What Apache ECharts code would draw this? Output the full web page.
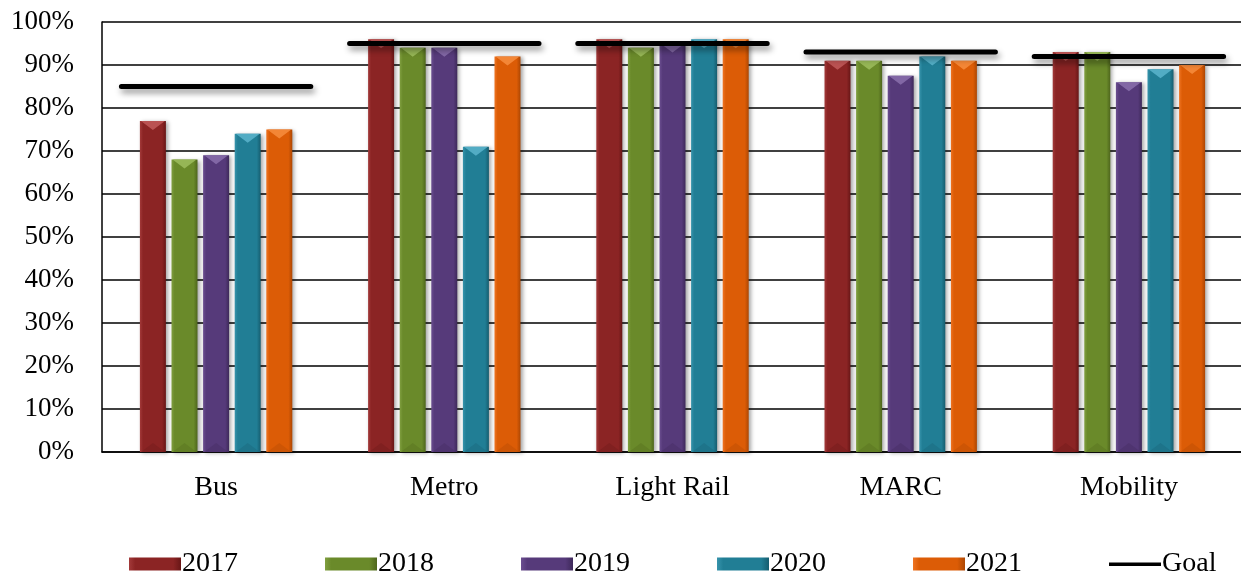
<!DOCTYPE html>
<html>
<head>
<meta charset="utf-8">
<script src="https://cdn.jsdelivr.net/npm/echarts@6/dist/echarts.min.js"></script>
<style>
  html, body { margin: 0; padding: 0; background: #fff; }
  #chart { width: 1241px; height: 573px; }
</style>
</head>
<body>
<div id="chart"></div>
<script>
// On-time performance by mode, 2017-2021, with the goal for each mode
const categories = ['Bus', 'Metro', 'Light Rail', 'MARC', 'Mobility'];
const years = ['2017', '2018', '2019', '2020', '2021'];
const v2017 = [77, 96, 96, 91, 93];
const v2018 = [68, 94, 94, 91, 93];
const v2019 = [69, 94, 95, 87.5, 86];
const v2020 = [74, 71, 96, 92, 89];
const v2021 = [75, 92, 96, 91, 90];
const goal = [85, 95, 95, 93, 92];
const yTicks = [0, 10, 20, 30, 40, 50, 60, 70, 80, 90, 100];

const values = [v2017, v2018, v2019, v2020, v2021];
// left highlight, body, right shade, top bevel
const palette = [
  ['#a33a3a', '#8b2424', '#681616', '#c25a5a'],
  ['#809f40', '#6a8a2a', '#4e661c', '#9ebd5e'],
  ['#6b4e90', '#563a7a', '#3e295a', '#8a70ad'],
  ['#3794ac', '#217e95', '#165d6f', '#5bb4cc'],
  ['#ef7422', '#dc5c06', '#ad4703', '#f78d40']
];

const FONT = 'Liberation Serif';
const BAR_W = 26;
const BAR_STEP = 31.6;

function barFill(c) {
  return new echarts.graphic.LinearGradient(0, 0, 1, 0, [
    { offset: 0, color: c[0] },
    { offset: 0.12, color: c[1] },
    { offset: 0.85, color: c[1] },
    { offset: 1, color: c[2] }
  ]);
}

// bevelled bar: body, light top facet, faint dark bottom facet
function makeBarRenderer(k) {
  const c = palette[k];
  return function (params, api) {
    const cat = api.value(0);
    const v = api.value(1);
    const top = api.coord([cat, v]);
    const base = api.coord([cat, 0]);
    const x0 = top[0] + (k - 2) * BAR_STEP - BAR_W / 2;
    const x1 = x0 + BAR_W;
    const xc = x0 + BAR_W / 2;
    const y0 = top[1];
    const y1 = base[1];
    const bevel = Math.min(9, (y1 - y0) / 2);
    return {
      type: 'group',
      children: [
        {
          type: 'rect',
          shape: { x: x0, y: y0, width: BAR_W, height: y1 - y0 },
          style: {
            fill: barFill(c),
            shadowColor: 'rgba(0,0,0,0.35)',
            shadowBlur: 4,
            shadowOffsetX: 2,
            shadowOffsetY: 1
          }
        },
        {
          type: 'polygon',
          shape: { points: [[x0 + 1, y0], [x1 - 1, y0], [xc, y0 + bevel]] },
          style: { fill: c[3], opacity: 0.85 }
        },
        {
          type: 'polygon',
          shape: { points: [[x0 + 1, y1], [x1 - 1, y1], [xc, y1 - bevel]] },
          style: { fill: c[2], opacity: 0.3 }
        }
      ]
    };
  };
}

const barSeries = years.map((y, k) => ({
  name: y,
  type: 'custom',
  xAxisIndex: 0,
  yAxisIndex: 0,
  data: values[k].map((v, i) => [i, v]),
  encode: { x: 0, y: 1 },
  renderItem: makeBarRenderer(k),
  itemStyle: { color: barFill(palette[k]) },
  z: 2
}));

// goal segments: one short horizontal line per category, broken between categories
const goalData = [];
goal.forEach((g, i) => {
  goalData.push([i + 0.085, g]);
  goalData.push([i + 0.915, g]);
  goalData.push([i + 0.95, null]);
});

const goalSeries = {
  name: 'Goal',
  type: 'line',
  xAxisIndex: 1,
  yAxisIndex: 0,
  data: goalData,
  symbol: 'none',
  connectNulls: false,
  z: 5,
  lineStyle: {
    color: '#000',
    width: 5,
    cap: 'round',
    shadowColor: 'rgba(0,0,0,0.45)',
    shadowBlur: 6,
    shadowOffsetX: 2,
    shadowOffsetY: 4
  },
  itemStyle: { color: '#000' }
};

const GOAL_ICON = 'path://M0,0L0.01,0L0,0.01ZM0,5L52,5L52,8.5L0,8.5ZM52,13L51.99,13L52,12.99Z';
const legendNames = years.concat(['Goal']);
const legends = legendNames.map((name, k) => ({
  left: 124 + k * 196,
  top: 545,
  itemGap: 0,
  itemWidth: 52,
  itemHeight: 13,
  data: [name === 'Goal'
    ? { name: name, icon: GOAL_ICON, itemStyle: { color: '#000' } }
    : { name: name, icon: 'rect' }],
  textStyle: { fontFamily: FONT, fontSize: 28, color: '#000', padding: [0, 0, 0, -4] }
}));

const chart = echarts.init(document.getElementById('chart'), null, { renderer: 'canvas' });
chart.setOption({
  animation: false,
  backgroundColor: '#fff',
  textStyle: { fontFamily: FONT, color: '#000' },
  grid: { left: 102, right: -2, top: 22, bottom: 121, containLabel: false, outerBoundsMode: 'none' },
  legend: legends,
  xAxis: [
    {
      type: 'category',
      data: categories,
      boundaryGap: true,
      axisLine: { lineStyle: { color: '#000', width: 1.5 } },
      axisTick: { show: false },
      axisLabel: { fontFamily: FONT, fontSize: 28, color: '#000', margin: 22 }
    },
    {
      type: 'value',
      min: 0,
      max: categories.length,
      show: false
    }
  ],
  yAxis: {
    type: 'value',
    min: yTicks[0],
    max: yTicks[yTicks.length - 1],
    interval: 10,
    axisLine: { show: true, lineStyle: { color: '#000', width: 1.5 } },
    axisTick: { show: false },
    splitLine: { lineStyle: { color: '#000', width: 1.5 } },
    axisLabel: { fontFamily: FONT, fontSize: 27, color: '#000', margin: 28, formatter: '{value}%' }
  },
  series: barSeries.concat([goalSeries])
});
</script>
</body>
</html>
